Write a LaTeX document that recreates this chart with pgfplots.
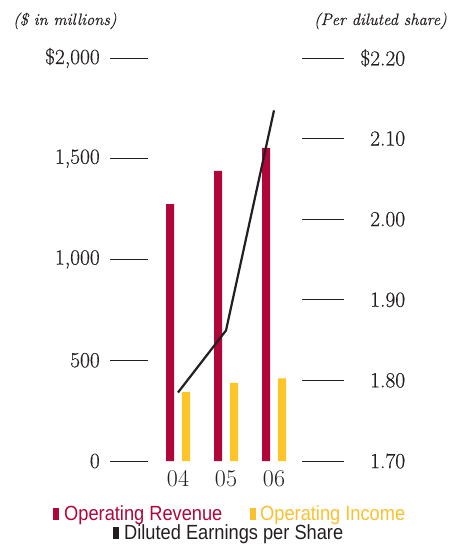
\documentclass[border=0pt]{standalone}
\usepackage{pgfplots}
\pgfplotsset{compat=1.18}
\usepackage{fontspec}
\newfontfamily\legfont[FakeStretch=0.89]{Liberation Sans}
\newfontfamily\heavy[FakeBold=0.45]{Latin Modern Roman}
\definecolor{rev}{HTML}{B0063A}
\definecolor{inc}{HTML}{FFC425}
\definecolor{inctext}{HTML}{FBC02D}
\definecolor{eps}{HTML}{231F20}
\begin{document}
\begin{tikzpicture}[x=1pt,y=1pt]
\path[use as bounding box] (0,0) rectangle (452,550);
\begin{axis}[
  at={(148pt,89pt)}, anchor=south west,
  width=154pt, height=403pt, scale only axis,
  xmin=-0.625, xmax=2.583, ymin=0, ymax=2000,
  axis x line*=bottom, axis y line*=left,
  axis line style={draw=none},
  xtick={0,1,2},
  xticklabels={\oldstylenums{04},\oldstylenums{05},\oldstylenums{06}},
  xtick style={draw=none},
  xticklabel style={font=\fontsize{24}{26}\selectfont, inner sep=0pt, anchor=north, yshift=29pt, text=eps},
  ytick={0,500,1000,1500,2000},
  yticklabels={0,500,{1,000},{1,500},{\$2,000}},
  tick align=outside, major tick length=38pt,
  ytick style={draw=eps, line width=0.8pt},
  yticklabel style={font=\heavy\fontsize{21.5}{24}\selectfont, inner sep=0pt, anchor=east, xshift=-10pt, text=eps},
  ybar, bar width=8pt,
  clip=false,
]
\addplot[fill=rev, draw=none, bar shift=-8pt] coordinates {(0,1275) (1,1440) (2,1554)};
\addplot[fill=inc, draw=none, bar shift=8pt] coordinates {(0,342) (1,388) (2,410)};
\end{axis}
\begin{axis}[
  at={(148pt,89pt)}, anchor=south west,
  width=154pt, height=403pt, scale only axis,
  xmin=-0.625, xmax=2.583, ymin=1.7, ymax=2.2,
  axis x line=none, axis y line*=right,
  axis line style={draw=none},
  ytick={1.7,1.8,1.9,2.0,2.1,2.2},
  yticklabels={1.70,1.80,1.90,2.00,2.10,{\llap{\$}2.20}},
  tick align=outside, major tick length=42pt,
  ytick style={draw=eps, line width=0.8pt},
  yticklabel style={font=\heavy\fontsize{21.5}{24}\selectfont, inner sep=0pt, anchor=west, xshift=26pt, text=eps},
  clip=false,
]
\addplot[eps, line width=2.2pt] coordinates {(0,1.785) (1,1.862) (2,2.135)};
\end{axis}
\node[anchor=base west, inner sep=0pt, font=\heavy\itshape\fontsize{16.5}{18}\selectfont, text=eps] at (13,525) {(\$ in millions)};
\node[anchor=base east, inner sep=0pt, font=\heavy\itshape\fontsize{16.5}{18}\selectfont, text=eps] at (447,525) {(Per diluted share)};
\node[anchor=base west, inner sep=0pt, font=\legfont\fontsize{20.5}{22}\selectfont, text=rev] at (53,30) {\rule{6pt}{12.5pt}\hspace{5pt}Operating Revenue};
\node[anchor=base west, inner sep=0pt, font=\legfont\fontsize{20.5}{22}\selectfont, text=inctext] at (250,30) {\rule{6pt}{12.5pt}\hspace{4pt}Operating Income};
\node[anchor=base west, inner sep=0pt, font=\legfont\fontsize{20.5}{22}\selectfont, text=eps] at (113,11) {\rule{6pt}{12.5pt}\hspace{5pt}Diluted Earnings per Share};
\end{tikzpicture}
\end{document}
